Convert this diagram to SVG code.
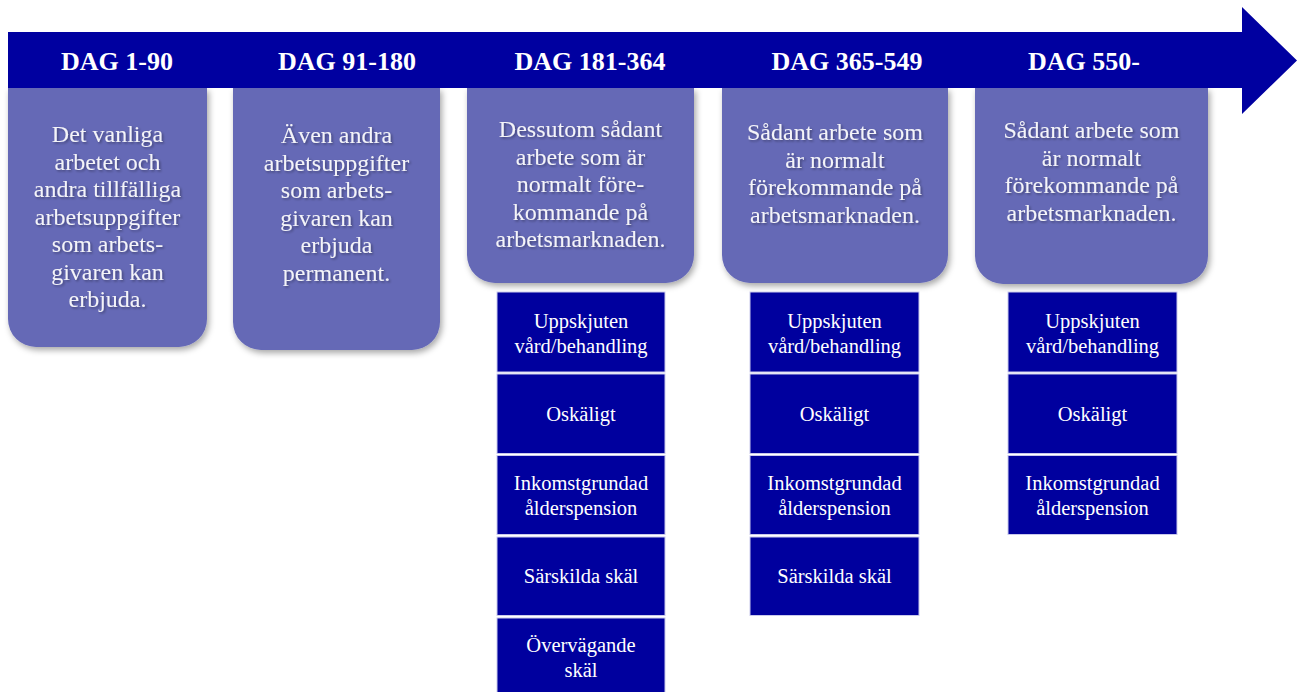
<svg xmlns="http://www.w3.org/2000/svg" width="1304" height="692" viewBox="0 0 1304 692">
<defs>
<filter id="cardShadow" x="-10%" y="-10%" width="125%" height="125%">
<feDropShadow dx="2" dy="3" stdDeviation="3" flood-color="#000" flood-opacity="0.35"/>
</filter>
<filter id="txtShadow" x="-5%" y="-20%" width="115%" height="150%">
<feDropShadow dx="1.5" dy="1.5" stdDeviation="1" flood-color="#000" flood-opacity="0.35"/>
</filter>
</defs>
<style>
.band{fill:#0000a0}
.card{fill:#6569b6;filter:url(#cardShadow)}
.hdr{font-family:"Liberation Serif","Times New Roman",serif;font-weight:bold;font-size:26px;fill:#ffffff;text-anchor:middle}
.ct{font-family:"Liberation Serif","Times New Roman",serif;font-size:24px;fill:#f4f4f8;text-anchor:middle;filter:url(#txtShadow)}
.box{fill:#00009e;stroke:#c9c9ec;stroke-width:1}
.bt{font-family:"Liberation Serif","Times New Roman",serif;font-size:20.5px;fill:#ffffff;text-anchor:middle}
</style>
<rect width="1304" height="692" fill="#ffffff"/>

<g id="cards">
<g id="card1">
<path class="card" d="M8,88 H207 V319 A28,28 0 0 1 179,347 H36 A28,28 0 0 1 8,319 Z"/>
<text class="ct" x="107.5"><tspan x="107.5" y="142">Det vanliga</tspan><tspan x="107.5" y="169.5">arbetet och</tspan><tspan x="107.5" y="197">andra tillfälliga</tspan><tspan x="107.5" y="224.5">arbetsuppgifter</tspan><tspan x="107.5" y="252">som arbets-</tspan><tspan x="107.5" y="279.5">givaren kan</tspan><tspan x="107.5" y="307">erbjuda.</tspan></text>
</g>
<g id="card2">
<path class="card" d="M233,88 H440 V322 A28,28 0 0 1 412,350 H261 A28,28 0 0 1 233,322 Z"/>
<text class="ct"><tspan x="336.5" y="143">Även andra</tspan><tspan x="336.5" y="170.5">arbetsuppgifter</tspan><tspan x="336.5" y="198">som arbets-</tspan><tspan x="336.5" y="225.5">givaren kan</tspan><tspan x="336.5" y="253">erbjuda</tspan><tspan x="336.5" y="280.5">permanent.</tspan></text>
</g>
<g id="card3">
<path class="card" d="M467,88 H694 V255 A28,28 0 0 1 666,283 H495 A28,28 0 0 1 467,255 Z"/>
<text class="ct"><tspan x="580.5" y="137">Dessutom sådant</tspan><tspan x="580.5" y="164.5">arbete som är</tspan><tspan x="580.5" y="192">normalt före-</tspan><tspan x="580.5" y="219.5">kommande på</tspan><tspan x="580.5" y="247">arbetsmarknaden.</tspan></text>
</g>
<g id="card4">
<path class="card" d="M722,88 H948 V255 A28,28 0 0 1 920,283 H750 A28,28 0 0 1 722,255 Z"/>
<text class="ct"><tspan x="835" y="140">Sådant arbete som</tspan><tspan x="835" y="167.5">är normalt</tspan><tspan x="835" y="195">förekommande på</tspan><tspan x="835" y="222.5">arbetsmarknaden.</tspan></text>
</g>
<g id="card5">
<path class="card" d="M975,88 H1208 V256 A28,28 0 0 1 1180,284 H1003 A28,28 0 0 1 975,256 Z"/>
<text class="ct"><tspan x="1091.5" y="138">Sådant arbete som</tspan><tspan x="1091.5" y="165.5">är normalt</tspan><tspan x="1091.5" y="193">förekommande på</tspan><tspan x="1091.5" y="220.5">arbetsmarknaden.</tspan></text>
</g>
</g>

<g id="timeline">
<polygon class="band" points="8,32 1242,32 1242,7 1297,60.5 1242,114 1242,88 8,88"/>
</g>

<g id="headers">
<g id="hdr1"><text class="hdr" x="117" y="70">DAG 1-90</text></g>
<g id="hdr2"><text class="hdr" x="347" y="70">DAG 91-180</text></g>
<g id="hdr3"><text class="hdr" x="590" y="70">DAG 181-364</text></g>
<g id="hdr4"><text class="hdr" x="847" y="70">DAG 365-549</text></g>
<g id="hdr5"><text class="hdr" x="1084" y="70">DAG 550-</text></g>
</g>

<g id="col3">
<g id="c3b1"><rect class="box" x="497" y="292" width="168" height="80"/><text class="bt"><tspan x="581" y="328">Uppskjuten</tspan><tspan x="581" y="352.5">vård/behandling</tspan></text></g>
<g id="c3b2"><rect class="box" x="497" y="374" width="168" height="79.5"/><text class="bt" x="581" y="420.5">Oskäligt</text></g>
<g id="c3b3"><rect class="box" x="497" y="455.5" width="168" height="79"/><text class="bt"><tspan x="581" y="490">Inkomstgrundad</tspan><tspan x="581" y="514.5">ålderspension</tspan></text></g>
<g id="c3b4"><rect class="box" x="497" y="537" width="168" height="78.5"/><text class="bt" x="581" y="583">Särskilda skäl</text></g>
<g id="c3b5"><rect class="box" x="497" y="618" width="168" height="80"/><text class="bt"><tspan x="581" y="652">Övervägande</tspan><tspan x="581" y="676.5">skäl</tspan></text></g>
</g>

<g id="col4">
<g id="c4b1"><rect class="box" x="750" y="292" width="169" height="80"/><text class="bt"><tspan x="834.5" y="328">Uppskjuten</tspan><tspan x="834.5" y="352.5">vård/behandling</tspan></text></g>
<g id="c4b2"><rect class="box" x="750" y="374" width="169" height="79.5"/><text class="bt" x="834.5" y="420.5">Oskäligt</text></g>
<g id="c4b3"><rect class="box" x="750" y="455.5" width="169" height="79"/><text class="bt"><tspan x="834.5" y="490">Inkomstgrundad</tspan><tspan x="834.5" y="514.5">ålderspension</tspan></text></g>
<g id="c4b4"><rect class="box" x="750" y="537" width="169" height="78.5"/><text class="bt" x="834.5" y="583">Särskilda skäl</text></g>
</g>

<g id="col5">
<g id="c5b1"><rect class="box" x="1008" y="292" width="169" height="80"/><text class="bt"><tspan x="1092.5" y="328">Uppskjuten</tspan><tspan x="1092.5" y="352.5">vård/behandling</tspan></text></g>
<g id="c5b2"><rect class="box" x="1008" y="374" width="169" height="79.5"/><text class="bt" x="1092.5" y="420.5">Oskäligt</text></g>
<g id="c5b3"><rect class="box" x="1008" y="455.5" width="169" height="79"/><text class="bt"><tspan x="1092.5" y="490">Inkomstgrundad</tspan><tspan x="1092.5" y="514.5">ålderspension</tspan></text></g>
</g>
</svg>
